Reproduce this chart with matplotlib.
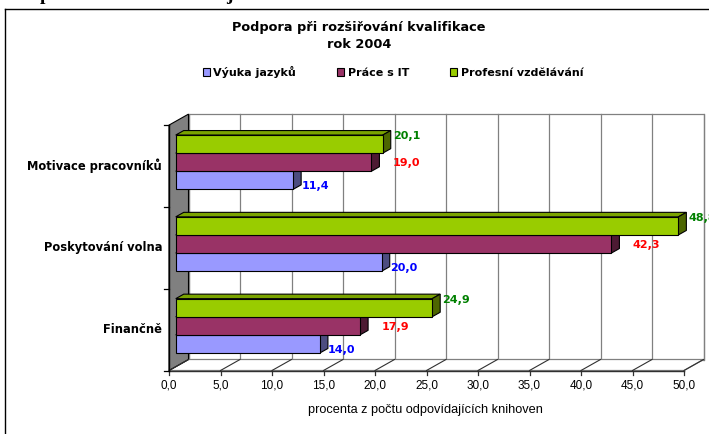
import matplotlib
matplotlib.use("Agg")
import matplotlib.pyplot as plt
from matplotlib.patches import Polygon, Rectangle
import numpy as np

plt.rcParams['font.family'] = ['Liberation Sans', 'DejaVu Sans']
BOLD_FAMILY = ['DejaVu Sans']

# ---------------- data ----------------
categories = ['Finančně', 'Poskytování volna', 'Motivace pracovníků']   # bottom -> top
series = ['Výuka jazyků', 'Práce s IT', 'Profesní vzdělávání']
vyuka_jazyku = [14.0, 20.0, 11.4]
prace_s_it = [17.9, 42.3, 19.0]
profesni_vzdelavani = [24.9, 48.8, 20.1]
xticks = [0, 5, 10, 15, 20, 25, 30, 35, 40, 45, 50]
xtick_labels = ['0,0', '5,0', '10,0', '15,0', '20,0', '25,0', '30,0', '35,0', '40,0', '45,0', '50,0']
title_lines = ['Podpora při rozšiřování kvalifikace', 'rok 2004']
xlabel = 'procenta z počtu odpovídajících knihoven'

# ---------------- styles ----------------
front_colors = ['#9999FF', '#993366', '#99CC00']
top_colors = ['#7A7ACC', '#7A2952', '#7AA300']
side_colors = ['#4D4D80', '#4D1A33', '#4D6600']
label_colors = ['#0000FF', '#FF0000', '#008000']
label_dx_px = [22, 35, 24]
label_dy_px = [6, 1, -8]

W, H = 709, 434
fig = plt.figure(figsize=(W / 100, H / 100), dpi=100)
ax = fig.add_axes([0, 0, 1, 1])
X0, XS, Y0, YS = 169.0, 10.3, 370.5, 81.8
ax.set_xlim(-X0 / XS, (W - X0) / XS)
ax.set_ylim((Y0 - H) / YS, Y0 / YS)
ax.axis('off')

PX, PY = 1 / XS, 1 / YS


def d(xp, yp):
    return (xp - X0) / XS, (Y0 - yp) / YS


XMAX = xticks[-1]
NCAT = len(categories)
DX, DY = 19.5 * PX, 11 * PY
F0, F1 = 0.345, 0.755
h = 18.1 * PY

# side wall
ax.add_patch(Polygon([(0, 0), (DX, DY), (DX, NCAT + DY), (0, NCAT)],
                     closed=True, fc='#808080', ec='black', lw=0.8, zorder=1))
# back wall
ax.add_patch(Rectangle((DX, DY), XMAX, NCAT, fc='white', ec='#808080', lw=0.9, zorder=0.5))
for t in xticks:
    ax.plot([t + DX, t + DX], [DY, NCAT + DY], color='#808080', lw=0.9, zorder=0.8)
# floor
ax.add_patch(Polygon([(0, 0), (XMAX, 0), (XMAX + DX, DY), (DX, DY)],
                     closed=True, fc='white', ec='#808080', lw=0.9, zorder=0.9))
for t, lab in zip(xticks, xtick_labels):
    ax.plot([t, t + DX], [0, DY], color='#303030', lw=0.8, zorder=1)
    ax.plot([t, t], [0, -4 * PY], color='#303030', lw=0.9, zorder=1)
    ax.text(t, -15.5 * PY, lab, ha='center', va='center', fontsize=8.5, color='black')
ax.plot([0, XMAX], [0, 0], color='#303030', lw=1.0, zorder=1.2)
ax.plot([0, 0], [0, NCAT], color='black', lw=1.0, zorder=1.2)
for b in range(NCAT + 1):
    ax.plot([-5 * PX, 0], [b, b], color='black', lw=0.9, zorder=1.2)

for i, c in enumerate(categories):
    ax.text(-7 * PX, i + 0.5, c, ha='right', va='center', fontsize=8.3, weight='bold',
            family=BOLD_FAMILY)

# bars
all_vals = [vyuka_jazyku, prace_s_it, profesni_vzdelavani]
centers = np.arange(NCAT) + 0.5
a = F0 * DX
ddx, ddy = (F1 - F0) * DX, (F1 - F0) * DY
handles = []
for k, vals in enumerate(all_vals):
    ys = centers + (k - 1) * h + F0 * DY
    z = 3 + k
    bc = ax.barh(ys, vals, height=h, left=a, color=front_colors[k], edgecolor='black',
                 lw=0.8, zorder=z + 0.2, label=series[k])
    handles.append(bc)
    for y, v in zip(ys, vals):
        yt, yb = y + h / 2, y - h / 2
        ax.add_patch(Polygon([(a, yt), (a + v, yt), (a + v + ddx, yt + ddy), (a + ddx, yt + ddy)],
                             closed=True, fc=top_colors[k], ec='black', lw=0.8, zorder=z))
        ax.add_patch(Polygon([(a + v, yb), (a + v + ddx, yb + ddy), (a + v + ddx, yt + ddy), (a + v, yt)],
                             closed=True, fc=side_colors[k], ec='black', lw=0.8, zorder=z))
        ax.text(a + v + label_dx_px[k] * PX, y - label_dy_px[k] * PY,
                f'{v:.1f}'.replace('.', ','), ha='center', va='center', fontsize=8,
                weight='bold', color=label_colors[k], zorder=10, family=BOLD_FAMILY)

# titles
tx, ty = d(359, 27)
ax.text(tx, ty, title_lines[0], ha='center', va='center', fontsize=9.3, weight='bold',
        family=BOLD_FAMILY)
tx, ty = d(359, 45)
ax.text(tx, ty, title_lines[1], ha='center', va='center', fontsize=9.3, weight='bold',
        family=BOLD_FAMILY)
lx, ly = d(425, 410)
ax.text(lx, ly, xlabel, ha='center', va='center', fontsize=9.2)

leg = ax.legend(handles=handles, loc='center', bbox_to_anchor=(393 / W, 1 - 72 / H),
                bbox_transform=fig.transFigure, ncol=3, frameon=False,
                prop=dict(family=BOLD_FAMILY, weight='bold', size=8),
                handlelength=0.65, handleheight=0.65,
                handletextpad=0.3, columnspacing=3.7)

# outer frame
x1, y1 = d(5, 9)
x2, _ = d(709, 9)
_, y3 = d(5, 434)
ax.plot([x1, x2], [y1, y1], color='black', lw=1.0, clip_on=False)
ax.plot([x1, x1], [y1, y3], color='black', lw=1.0, clip_on=False)

# cut-off heading fragments at the top
fig.text(40 / W, 1 + 0.5 / H, 'p', family='Liberation Serif', weight='bold', fontsize=14, va='baseline')
fig.text(226 / W, 1 + 0.5 / H, 'j', family='Liberation Serif', weight='bold', fontsize=14, va='baseline')

fig.savefig('out.png', dpi=100)
